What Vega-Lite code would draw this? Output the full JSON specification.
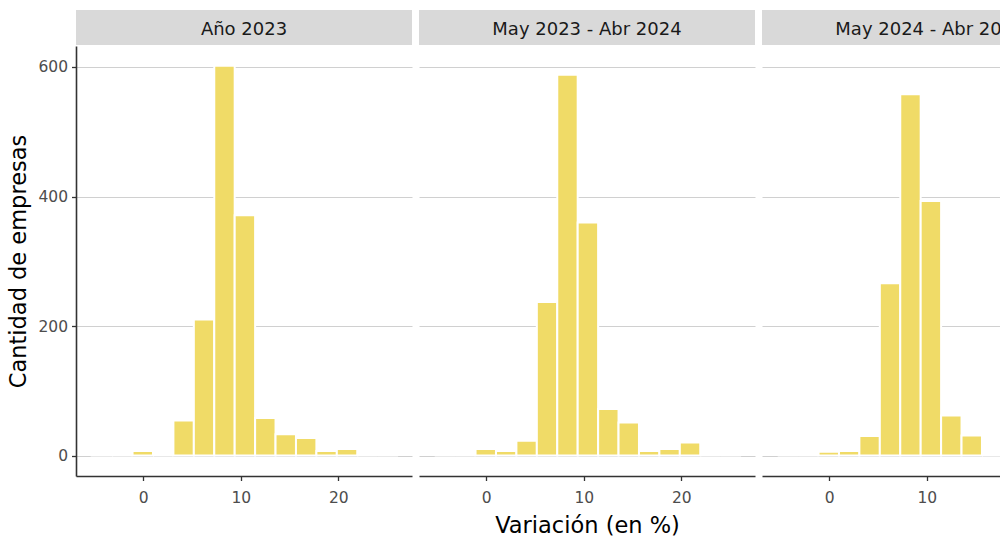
{
  "$schema": "https://vega.github.io/schema/vega-lite/v6.json",
  "background": "white",
  "padding": {"left": 7, "top": 10, "right": 0, "bottom": 0},
  "datasets": {
    "hist": [
      {"panel": "Año 2023", "bin_start": -5.29, "bin_end": -3.195, "count": 3},
      {"panel": "Año 2023", "bin_start": -3.195, "bin_end": -1.1, "count": 0},
      {"panel": "Año 2023", "bin_start": -1.1, "bin_end": 0.995, "count": 7},
      {"panel": "Año 2023", "bin_start": 0.995, "bin_end": 3.09, "count": 0},
      {"panel": "Año 2023", "bin_start": 3.09, "bin_end": 5.185, "count": 54},
      {"panel": "Año 2023", "bin_start": 5.185, "bin_end": 7.28, "count": 210},
      {"panel": "Año 2023", "bin_start": 7.28, "bin_end": 9.375, "count": 602},
      {"panel": "Año 2023", "bin_start": 9.375, "bin_end": 11.47, "count": 371},
      {"panel": "Año 2023", "bin_start": 11.47, "bin_end": 13.565, "count": 58},
      {"panel": "Año 2023", "bin_start": 13.565, "bin_end": 15.66, "count": 33},
      {"panel": "Año 2023", "bin_start": 15.66, "bin_end": 17.755, "count": 27},
      {"panel": "Año 2023", "bin_start": 17.755, "bin_end": 19.85, "count": 7},
      {"panel": "Año 2023", "bin_start": 19.85, "bin_end": 21.945, "count": 10},
      {"panel": "Año 2023", "bin_start": 21.945, "bin_end": 24.04, "count": 0},
      {"panel": "Año 2023", "bin_start": 24.04, "bin_end": 26.135, "count": 0},
      {"panel": "May 2023 - Abr 2024", "bin_start": -5.29, "bin_end": -3.195, "count": 0},
      {"panel": "May 2023 - Abr 2024", "bin_start": -3.195, "bin_end": -1.1, "count": 0},
      {"panel": "May 2023 - Abr 2024", "bin_start": -1.1, "bin_end": 0.995, "count": 10},
      {"panel": "May 2023 - Abr 2024", "bin_start": 0.995, "bin_end": 3.09, "count": 7},
      {"panel": "May 2023 - Abr 2024", "bin_start": 3.09, "bin_end": 5.185, "count": 23},
      {"panel": "May 2023 - Abr 2024", "bin_start": 5.185, "bin_end": 7.28, "count": 237},
      {"panel": "May 2023 - Abr 2024", "bin_start": 7.28, "bin_end": 9.375, "count": 588},
      {"panel": "May 2023 - Abr 2024", "bin_start": 9.375, "bin_end": 11.47, "count": 360},
      {"panel": "May 2023 - Abr 2024", "bin_start": 11.47, "bin_end": 13.565, "count": 72},
      {"panel": "May 2023 - Abr 2024", "bin_start": 13.565, "bin_end": 15.66, "count": 51},
      {"panel": "May 2023 - Abr 2024", "bin_start": 15.66, "bin_end": 17.755, "count": 7},
      {"panel": "May 2023 - Abr 2024", "bin_start": 17.755, "bin_end": 19.85, "count": 10},
      {"panel": "May 2023 - Abr 2024", "bin_start": 19.85, "bin_end": 21.945, "count": 20},
      {"panel": "May 2023 - Abr 2024", "bin_start": 21.945, "bin_end": 24.04, "count": 0},
      {"panel": "May 2023 - Abr 2024", "bin_start": 24.04, "bin_end": 26.135, "count": 0},
      {"panel": "May 2024 - Abr 2025", "bin_start": -5.29, "bin_end": -3.195, "count": 0},
      {"panel": "May 2024 - Abr 2025", "bin_start": -3.195, "bin_end": -1.1, "count": 0},
      {"panel": "May 2024 - Abr 2025", "bin_start": -1.1, "bin_end": 0.995, "count": 6},
      {"panel": "May 2024 - Abr 2025", "bin_start": 0.995, "bin_end": 3.09, "count": 7},
      {"panel": "May 2024 - Abr 2025", "bin_start": 3.09, "bin_end": 5.185, "count": 30},
      {"panel": "May 2024 - Abr 2025", "bin_start": 5.185, "bin_end": 7.28, "count": 266},
      {"panel": "May 2024 - Abr 2025", "bin_start": 7.28, "bin_end": 9.375, "count": 558},
      {"panel": "May 2024 - Abr 2025", "bin_start": 9.375, "bin_end": 11.47, "count": 393},
      {"panel": "May 2024 - Abr 2025", "bin_start": 11.47, "bin_end": 13.565, "count": 62},
      {"panel": "May 2024 - Abr 2025", "bin_start": 13.565, "bin_end": 15.66, "count": 31},
      {"panel": "May 2024 - Abr 2025", "bin_start": 15.66, "bin_end": 17.755, "count": 0}
    ]
  },
  "bounds": "flush",
  "columns": 3,
  "spacing": {"row": 1, "column": 7},
  "concat": [
    {
      "width": 336, "height": 35,
      "view": {"fill": "#d9d9d9", "stroke": null},
      "data": {"values": [{"label": "Año 2023"}]},
      "mark": {"type": "text", "fontSize": 18, "color": "#1a1a1a", "baseline": "middle", "dy": 2},
      "encoding": {"text": {"field": "label", "type": "nominal"}}
    },
    {
      "width": 336, "height": 35,
      "view": {"fill": "#d9d9d9", "stroke": null},
      "data": {"values": [{"label": "May 2023 - Abr 2024"}]},
      "mark": {"type": "text", "fontSize": 18, "color": "#1a1a1a", "baseline": "middle", "dy": 2},
      "encoding": {"text": {"field": "label", "type": "nominal"}}
    },
    {
      "width": 238, "height": 35,
      "view": {"fill": "#d9d9d9", "stroke": null},
      "data": {"values": [{"label": "May 2024 - Abr 2025"}]},
      "mark": {"type": "text", "fontSize": 18, "color": "#1a1a1a", "baseline": "middle", "dy": 2, "clip": true, "dx": 49},
      "encoding": {"text": {"field": "label", "type": "nominal"}}
    },
    {
      "width": 336, "height": 430,
      "data": {"name": "hist"},
      "transform": [{"filter": "datum.panel === 'Año 2023'"}],
      "mark": {"type": "bar", "fill": "#F0DB67", "stroke": "white", "strokeWidth": 2, "clip": true},
      "encoding": {
        "x": {"field": "bin_start", "type": "quantitative",
              "scale": {"domain": [-6.9, 27.56], "nice": false, "zero": false},
              "axis": {"values": [0, 10, 20], "title": null}},
        "x2": {"field": "bin_end"},
        "y": {"field": "count", "type": "quantitative",
              "scale": {"domain": [-31.6, 632.4], "nice": false, "zero": false},
              "axis": {"values": [0, 200, 400, 600], "title": "Cantidad de empresas", "grid": true, "domain": true}},
        "y2": {"datum": 0}
      }
    },
    {
      "width": 336, "height": 430,
      "data": {"name": "hist"},
      "transform": [{"filter": "datum.panel === 'May 2023 - Abr 2024'"}],
      "mark": {"type": "bar", "fill": "#F0DB67", "stroke": "white", "strokeWidth": 2, "clip": true},
      "encoding": {
        "x": {"field": "bin_start", "type": "quantitative",
              "scale": {"domain": [-6.9, 27.56], "nice": false, "zero": false},
              "axis": {"values": [0, 10, 20], "title": "Variación (en %)"}},
        "x2": {"field": "bin_end"},
        "y": {"field": "count", "type": "quantitative",
              "scale": {"domain": [-31.6, 632.4], "nice": false, "zero": false},
              "axis": {"values": [0, 200, 400, 600], "title": null, "grid": true, "labels": false, "ticks": false, "domain": false}},
        "y2": {"datum": 0}
      }
    },
    {
      "width": 238, "height": 430,
      "data": {"name": "hist"},
      "transform": [{"filter": "datum.panel === 'May 2024 - Abr 2025'"}],
      "mark": {"type": "bar", "fill": "#F0DB67", "stroke": "white", "strokeWidth": 2, "clip": true},
      "encoding": {
        "x": {"field": "bin_start", "type": "quantitative",
              "scale": {"domain": [-6.9, 17.51], "nice": false, "zero": false},
              "axis": {"values": [0, 10], "title": null}},
        "x2": {"field": "bin_end"},
        "y": {"field": "count", "type": "quantitative",
              "scale": {"domain": [-31.6, 632.4], "nice": false, "zero": false},
              "axis": {"values": [0, 200, 400, 600], "title": null, "grid": true, "labels": false, "ticks": false, "domain": false}},
        "y2": {"datum": 0}
      }
    }
  ],
  "config": {
    "font": "DejaVu Sans",
    "view": {"stroke": null},
    "axis": {
      "grid": false,
      "gridColor": "#d0d0d0",
      "gridWidth": 1,
      "domainColor": "#333333",
      "domainWidth": 1.6,
      "tickColor": "#333333",
      "tickWidth": 1.3,
      "tickSize": 4.5,
      "labelColor": "#4d4d4d",
      "labelFont": "DejaVu Sans",
      "labelFontSize": 15.5,
      "labelPadding": 10,
      "titleFont": "DejaVu Sans",
      "titleFontSize": 22.5,
      "titleFontWeight": "normal",
      "titleColor": "#000000",
      "titlePadding": 8
    },
    "axisY": {"labelPadding": 4, "titlePadding": 7}
  }
}
